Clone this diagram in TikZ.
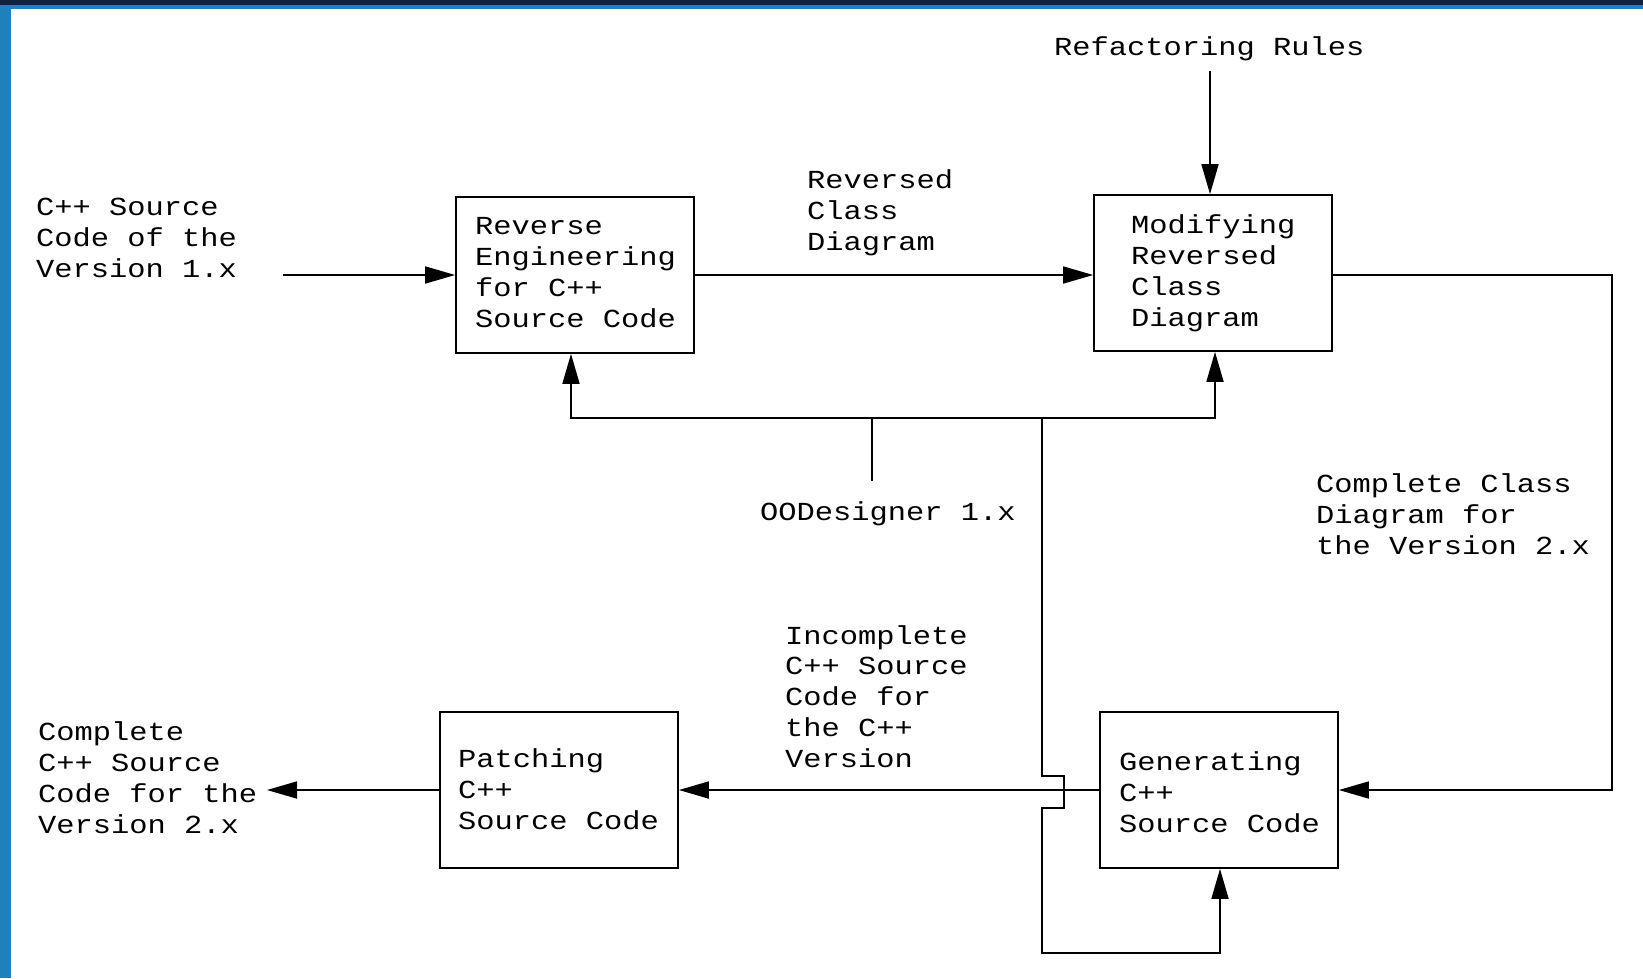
\documentclass[tikz,border=0pt]{standalone}
\usepackage{fontspec}
\newfontfamily\diagfont[FakeStretch=1.17]{Liberation Mono}
\usetikzlibrary{arrows.meta}
\definecolor{barnavy}{HTML}{0A2540}
\definecolor{barblue}{HTML}{1F80BB}

\begin{document}
\begin{tikzpicture}[x=1pt,y=-1pt,
  box/.style={draw, line width=1.7pt, minimum width=238pt, minimum height=156pt, inner sep=0pt},
  % captions are placed by the baseline of their last line
  txt/.style={anchor=base west, align=left, inner sep=0pt,
              font=\diagfont\fontsize{26pt}{30.7pt}\selectfont},
  wire/.style={line width=1.7pt},
  flow/.style={line width=1.7pt, -{Triangle[length=30pt,width=17pt]}}]

% page and window frame
\fill[white] (0,0) rectangle (1643,978);
\fill[barblue] (0,0) rectangle (11,978);
\fill[barblue] (0,0) rectangle (1643,9);
\fill[barnavy] (0,0) rectangle (1643,5);
\useasboundingbox (0,0) rectangle (1643,978);

% process boxes
\node[box] (rev) at (575,275) {};
\node[box] (mod) at (1213,273) {};
\node[box] (pat) at (559,790) {};
\node[box] (gen) at (1219,790) {};

% box captions
\node[txt] (revtxt) at (475,327) {Reverse\\Engineering\\for C++\\Source Code};
\node[txt] (modtxt) at (1131,326) {Modifying\\Reversed\\Class\\Diagram};
\node[txt] (pattxt) at (458,829) {Patching\\C++\\Source Code};
\node[txt] (gentxt) at (1119,832) {Generating\\C++\\Source Code};

% flow labels
\node[txt] (inlabel) at (36,277) {C++ Source\\Code of the\\Version 1.x};
\node[txt] (rclabel) at (807,250) {Reversed\\Class\\Diagram};
\node[txt] (rules) at (1054,55) {Refactoring Rules};
\node[txt] (oolabel) at (760,520) {OODesigner 1.x};
\node[txt] (cclabel) at (1316,554) {Complete Class\\Diagram for\\the Version 2.x};
\node[txt] (inclabel) at (785,767) {Incomplete\\C++ Source\\Code for\\the C++\\Version};
\node[txt] (outlabel) at (38,833) {Complete\\C++ Source\\Code for the\\Version 2.x};

% free ends and routing points
\coordinate (inS) at (283,275);
\coordinate (rulesS) at (1210,71);
\coordinate (ooS) at (872,481);
\coordinate (fb) at (872,418);
\coordinate (tap) at (1042,418);
\coordinate (rt) at (1612,0);
\coordinate (outE) at (267,0);

% connectors
\draw[flow] (inS) -- (inS -| rev.west);
\draw[flow] (rev.east) -- (rev.east -| mod.west);
\draw[flow] (rulesS) -- (rulesS |- mod.north);
\draw[wire] (ooS) -- (fb);
\draw[flow] (fb) -| ([xshift=-4pt]rev.south);
\draw[flow] (fb) -| ([xshift=2pt]mod.south);
\draw[flow] (tap) -- (1042,776) -- (1064,776) -- (1064,808) -- (1042,808)
            -- (1042,953) -| ([xshift=1pt]gen.south);
\draw[flow] (mod.east |- rev.east) -- (rev.east -| rt) |- (gen.east);
\draw[flow] (gen.west) -- (pat.east);
\draw[flow] (pat.west) -- (pat.west -| outE);
\end{tikzpicture}
\end{document}
